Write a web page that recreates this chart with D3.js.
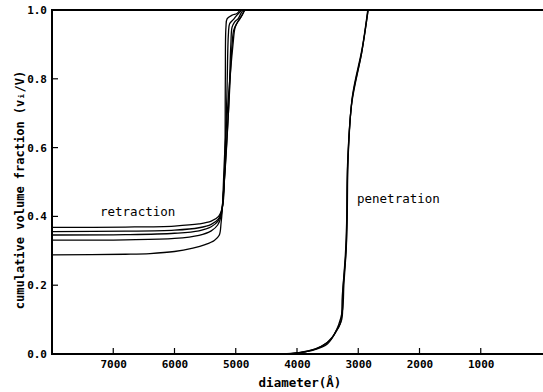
<!DOCTYPE html>
<html>
<head>
<meta charset="utf-8">
<script src="https://cdn.jsdelivr.net/npm/d3@7"></script>
<style>
body { margin: 0; background: #fff; }
text { font-family: "DejaVu Sans Mono", monospace; fill: #000; }
</style>
</head>
<body>
<svg id="chart" width="543" height="392"></svg>
<script>
// x ticks (diameter, Angstrom) and y ticks
var xTicks = [7000, 6000, 5000, 4000, 3000, 2000, 1000];
var yTicks = [0.0, 0.2, 0.4, 0.6, 0.8, 1.0];

// retraction curves: [diameter, fraction]
var retraction1 = [[8000,0.368],[6800,0.369],[6000,0.372],[5600,0.378],[5400,0.386],[5280,0.40],[5215,0.43],[5180,0.55],[5170,0.80],[5160,0.95],[5140,0.975],[5060,0.985],[4980,0.99],[4930,1.0]];
var retraction2 = [[8000,0.356],[6800,0.357],[6000,0.360],[5600,0.367],[5400,0.377],[5285,0.392],[5225,0.42],[5190,0.50],[5145,0.75],[5120,0.93],[5100,0.96],[5040,0.972],[4980,0.985],[4900,1.0]];
var retraction3 = [[8000,0.346],[6800,0.347],[6000,0.351],[5600,0.358],[5400,0.370],[5290,0.386],[5235,0.41],[5200,0.47],[5115,0.72],[5080,0.90],[5060,0.95],[5020,0.965],[4960,0.975],[4915,0.99],[4880,1.0]];
var retraction4 = [[8000,0.331],[6800,0.332],[6000,0.336],[5600,0.345],[5400,0.358],[5295,0.375],[5240,0.40],[5205,0.46],[5120,0.70],[5060,0.90],[5035,0.94],[5000,0.955],[4950,0.97],[4895,0.985],[4860,1.0]];
var retraction5 = [[8000,0.288],[6800,0.290],[6400,0.292],[6000,0.298],[5700,0.308],[5500,0.318],[5350,0.330],[5270,0.345],[5240,0.38],[5220,0.42],[5175,0.60],[5045,0.90],[5010,0.95],[4970,0.965],[4915,0.98],[4850,1.0]];

// penetration curves
var penetration1 = [[4150,0.0],[3900,0.006],[3670,0.017],[3460,0.040],[3350,0.070],[3270,0.10],[3250,0.186],[3200,0.30],[3185,0.39],[3170,0.56],[3100,0.74],[2940,0.88],[2840,1.0]];
var penetration2 = [[4050,0.0],[3820,0.008],[3600,0.022],[3420,0.050],[3320,0.085],[3255,0.13],[3235,0.20],[3195,0.31],[3180,0.40],[3165,0.57],[3095,0.75],[2935,0.89],[2845,1.0]];
var penetration3 = [[4250,0.0],[3980,0.004],[3720,0.012],[3500,0.030],[3380,0.060],[3290,0.09],[3260,0.17],[3210,0.29],[3190,0.38],[3175,0.55],[3105,0.73],[2945,0.875],[2838,1.0]];

var retractionCurves = [retraction1, retraction2, retraction3, retraction4, retraction5];
var penetrationCurves = [penetration1, penetration2, penetration3];

var svg = d3.select("#chart");
var mLeft = 52, mRight = 542, mTop = 10, mBottom = 354;

var x = d3.scaleLinear().domain([8000, 0]).range([mLeft, mRight]);
var y = d3.scaleLinear().domain([0, 1]).range([mBottom, mTop]);

// x axis
var xAxis = d3.axisBottom(x).tickValues(xTicks).tickSize(0).tickPadding(6).tickFormat(d3.format("d"));
var gx = svg.append("g").attr("transform", "translate(0," + mBottom + ")").call(xAxis);
gx.select(".domain").remove();
gx.selectAll("text").style("font-size", "11px").style("font-weight", "bold")
    .style("font-family", "DejaVu Sans Mono, monospace");
svg.append("g").selectAll("line").data(xTicks).enter().append("line")
    .attr("x1", function (d) { return x(d); }).attr("x2", function (d) { return x(d); })
    .attr("y1", mBottom).attr("y2", mBottom - 6)
    .attr("stroke", "#000").attr("stroke-width", 1.2);

// y axis
var yAxis = d3.axisLeft(y).tickValues(yTicks).tickSize(0).tickPadding(5).tickFormat(d3.format(".1f"));
var gy = svg.append("g").attr("transform", "translate(" + mLeft + ",0)").call(yAxis);
gy.select(".domain").remove();
gy.selectAll("text").style("font-size", "11px").style("font-weight", "bold")
    .style("font-family", "DejaVu Sans Mono, monospace");
svg.append("g").selectAll("line").data(yTicks).enter().append("line")
    .attr("x1", mLeft).attr("x2", mLeft + 6)
    .attr("y1", function (d) { return y(d); }).attr("y2", function (d) { return y(d); })
    .attr("stroke", "#000").attr("stroke-width", 1.2);

// frame lines
svg.append("line").attr("x1", mLeft).attr("x2", mLeft).attr("y1", mTop).attr("y2", mBottom + 1)
    .attr("stroke", "#000").attr("stroke-width", 2);
svg.append("line").attr("x1", mLeft - 1).attr("x2", 543).attr("y1", mBottom).attr("y2", mBottom)
    .attr("stroke", "#000").attr("stroke-width", 2.2);
svg.append("line").attr("x1", mLeft - 1).attr("x2", 543).attr("y1", mTop).attr("y2", mTop)
    .attr("stroke", "#000").attr("stroke-width", 2.2);

// curves
var line = d3.line()
    .x(function (d) { return x(d[0]); })
    .y(function (d) { return y(d[1]); })
    .curve(d3.curveCatmullRom.alpha(0.5));

svg.append("g").selectAll("path").data(retractionCurves).enter().append("path")
    .attr("d", line).attr("fill", "none").attr("stroke", "#000").attr("stroke-width", 1.3);
svg.append("g").selectAll("path").data(penetrationCurves).enter().append("path")
    .attr("d", line).attr("fill", "none").attr("stroke", "#000").attr("stroke-width", 1.3);

// labels
svg.append("text").attr("x", 100).attr("y", 216).style("font-size", "12.5px").text("retraction");
svg.append("text").attr("x", 357).attr("y", 203).style("font-size", "12.5px").text("penetration");

svg.append("text").attr("x", 300).attr("y", 387).attr("text-anchor", "middle")
    .style("font-size", "12.5px").style("font-weight", "bold").text("diameter(\u00C5)");

svg.append("text").attr("transform", "translate(24," + 190 + ") rotate(-90)")
    .attr("text-anchor", "middle").style("font-size", "12px").style("font-weight", "bold")
    .text("cumulative volume fraction (v\u1D62/V)");
</script>
</body>
</html>
